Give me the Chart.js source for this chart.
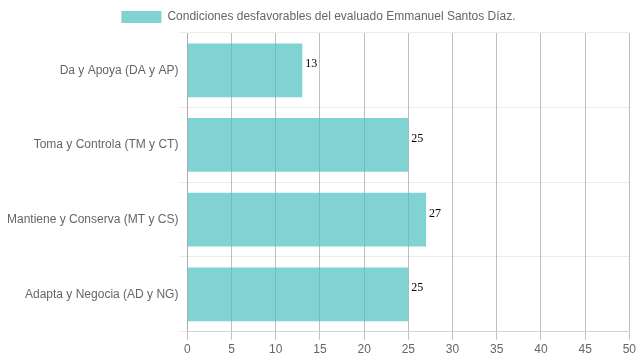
<!DOCTYPE html>
<html>
<head>
<meta charset="utf-8">
<script src="https://cdn.jsdelivr.net/npm/chart.js@4"></script>
<style>
  html, body { margin: 0; padding: 0; background: #fff; }
  #wrap { width: 639px; height: 360px; }
</style>
</head>
<body>
<div id="wrap"><canvas id="condicionesChart"></canvas></div>
<script>
// Chart data
const categorias = [
    'Da y Apoya (DA y AP)',
    'Toma y Controla (TM y CT)',
    'Mantiene y Conserva (MT y CS)',
    'Adapta y Negocia (AD y NG)'
];
const valores = [13, 25, 27, 25];
const serieNombre = 'Condiciones desfavorables del evaluado Emmanuel Santos Díaz.';

Chart.defaults.font.family = "Arial, 'Liberation Sans', sans-serif";
Chart.defaults.font.size = 12;
Chart.defaults.color = '#666';

// Draws the value next to each bar
const valueLabels = {
    id: 'valueLabels',
    afterDatasetsDraw(chart) {
        const ctx = chart.ctx;
        ctx.save();
        ctx.font = "12px 'Liberation Serif', 'Times New Roman', serif";
        ctx.fillStyle = '#000';
        ctx.textAlign = 'left';
        ctx.textBaseline = 'middle';
        chart.getDatasetMeta(0).data.forEach(function(bar, i) {
            ctx.fillText(chart.data.datasets[0].data[i], bar.x + 3, bar.y - 6);
        });
        ctx.restore();
    }
};

const ctx = document.getElementById('condicionesChart').getContext('2d');
window.condicionesChart = new Chart(ctx, {
    type: 'bar',
    data: {
        labels: categorias,
        datasets: [{
            label: serieNombre,
            data: valores,
            backgroundColor: 'rgba(75, 192, 192, 0.7)',
            borderWidth: 0
        }]
    },
    options: {
        indexAxis: 'y',
        responsive: true,
        maintainAspectRatio: false,
        animation: false,
        layout: { padding: { left: 6, right: 8, top: 1 } },
        scales: {
            x: {
                min: 0,
                max: 50,
                ticks: { stepSize: 5 },
                grid: { color: 'rgba(0, 0, 0, 0.25)' }
            },
            y: {
                ticks: { padding: 1 },
                grid: { color: 'rgba(0, 0, 0, 0.08)' }
            }
        },
        plugins: {
            legend: {
                position: 'top',
                labels: { boxWidth: 40 }
            },
            tooltip: { enabled: false }
        }
    },
    plugins: [valueLabels]
});
</script>
</body>
</html>
